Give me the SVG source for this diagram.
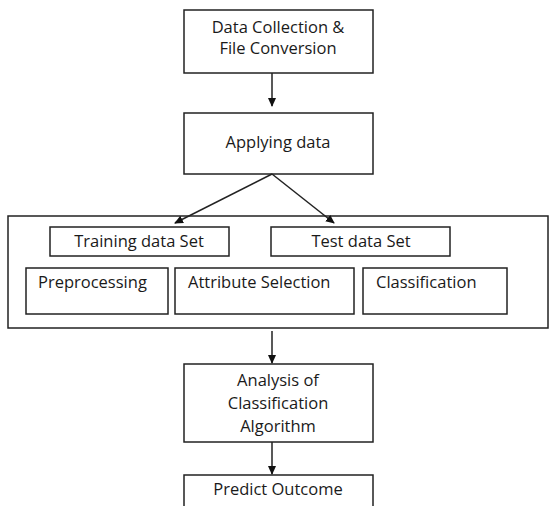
<svg xmlns="http://www.w3.org/2000/svg" width="550" height="506" viewBox="0 0 550 506">
<style>
.b{fill:#fff;stroke:#222;stroke-width:1.5}
text{font-family:"Open Sans","Liberation Sans",sans-serif;font-size:16.5px;fill:#1a1a1a}
.c{text-anchor:middle}
.ln{stroke:#222;stroke-width:1.5;fill:none}
</style>
<defs>
<marker id="ah" markerWidth="10" markerHeight="10" refX="8" refY="5" orient="auto" markerUnits="userSpaceOnUse">
<path d="M0,1 L9,5 L0,9 Z" fill="#111"/>
</marker>
</defs>
<rect width="550" height="506" fill="#fff"/>
<g id="n1"><rect class="b" x="184" y="10" width="189" height="63"/>
<text class="c" x="278" y="33">Data Collection &amp;</text>
<text class="c" x="278" y="54">File Conversion</text></g>
<g id="n2"><rect class="b" x="184" y="113" width="189" height="61"/>
<text class="c" x="278" y="148">Applying data</text></g>
<g id="container"><rect class="b" x="8" y="216" width="540" height="112"/></g>
<g id="n3"><rect class="b" x="50" y="227" width="179" height="29"/>
<text class="c" x="139" y="247">Training data Set</text></g>
<g id="n4"><rect class="b" x="271" y="227" width="179" height="29"/>
<text class="c" x="361" y="247">Test data Set</text></g>
<g id="n5"><rect class="b" x="26" y="268" width="142" height="46"/>
<text x="38" y="288">Preprocessing</text></g>
<g id="n6"><rect class="b" x="175" y="268" width="179" height="46"/>
<text x="188" y="288">Attribute Selection</text></g>
<g id="n7"><rect class="b" x="363" y="268" width="144" height="46"/>
<text x="376" y="288">Classification</text></g>
<g id="n8"><rect class="b" x="184" y="364" width="189" height="78"/>
<text class="c" x="278" y="386">Analysis of</text>
<text class="c" x="278" y="409">Classification</text>
<text class="c" x="278" y="432">Algorithm</text></g>
<g id="n9"><rect class="b" x="184" y="475" width="189" height="40"/>
<text class="c" x="278" y="495">Predict Outcome</text></g>
<g id="connectors">
<line class="ln" x1="272" y1="73" x2="272" y2="106" marker-end="url(#ah)"/>
<line class="ln" x1="272" y1="174" x2="175" y2="223" marker-end="url(#ah)"/>
<line class="ln" x1="272" y1="174" x2="334" y2="223" marker-end="url(#ah)"/>
<line class="ln" x1="272" y1="331" x2="272" y2="363" marker-end="url(#ah)"/>
<line class="ln" x1="272" y1="442" x2="272" y2="474" marker-end="url(#ah)"/>
</g>
</svg>
